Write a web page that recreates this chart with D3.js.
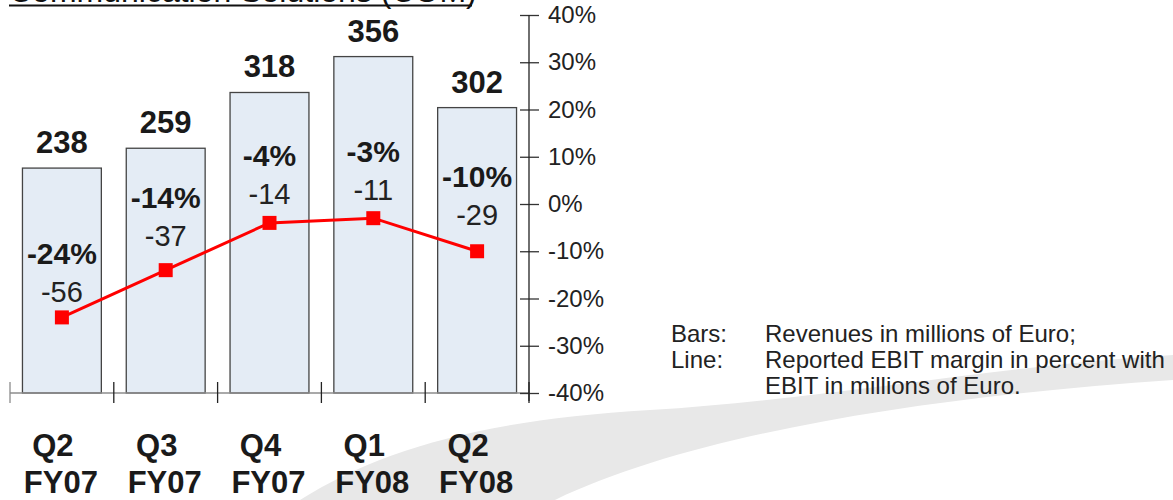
<!DOCTYPE html>
<html>
<head>
    <meta charset="utf-8">
    <script src="https://d3js.org/d3.v7.min.js"></script>
    <style>
      body { margin: 0; background: #fff; }
    </style>
</head>

<body>

    <div id="graph"></div>

<script>

// chart values
const quarters = ["Q2", "Q3", "Q4", "Q1", "Q2"];
const fiscalYears = ["FY07", "FY07", "FY07", "FY08", "FY08"];
const revenues = [238, 259, 318, 356, 302];      // bars, millions of Euro
const ebitMargin = [-24, -14, -4, -3, -10];      // line, percent
const ebit = [-56, -37, -14, -11, -29];          // millions of Euro
const marginTicks = [40, 30, 20, 10, 0, -10, -20, -30, -40];

// how far the margin / EBIT labels sit above each marker (px)
const labelLift = [15, 24, 19, 18, 26];

const width = 1173, height = 500;
const font = "Arial, 'Liberation Sans', sans-serif";

const svg = d3.select("#graph")
  .append("svg")
    .attr("width", width)
    .attr("height", height);

// grey swoosh in the background
svg.append("path")
    .attr("d", "M300,500 C380,450 480,420 650,410 S1000,365 1173,355 L1173,380 C950,395 700,430 555,500 Z")
    .attr("fill", "#e8e8e8");

// title, mostly cut off at the top
svg.append("text")
    .attr("x", 9)
    .attr("y", 2)
    .attr("font-family", font)
    .attr("font-size", 32)
    .attr("fill", "#111")
    .text("Communication Solutions (COM)");
svg.append("line")
    .attr("x1", 9).attr("x2", 472)
    .attr("y1", 5.5).attr("y2", 5.5)
    .style("stroke", "#111")
    .style("stroke-width", 2);

// scales
const x = d3.scaleBand()
    .domain(d3.range(revenues.length))
    .range([10, 529])
    .paddingInner(0.24)
    .paddingOuter(0.12);
const bw = x.bandwidth();
const cx = i => x(i) + bw / 2;

const yRev = d3.scaleLinear().domain([0, 400]).range([393, 15]);
const yPct = d3.scaleLinear().domain([-40, 40]).range([393, 15]);

// bars
svg.selectAll(".bar")
  .data(revenues)
  .join("rect")
    .attr("class", "bar")
    .attr("x", (d, i) => x(i))
    .attr("y", d => yRev(d))
    .attr("width", bw)
    .attr("height", d => yRev(0) - yRev(d))
    .attr("fill", "#e4ecf5")
    .attr("stroke", "#444")
    .attr("stroke-width", 1.3);

// bottom axis with ticks between the bars
svg.append("line")
    .attr("x1", 10).attr("x2", 529)
    .attr("y1", yRev(0)).attr("y2", yRev(0))
    .style("stroke", "#8c8c8c")
    .style("stroke-width", 1.5);
const gap = x.step() * x.paddingInner() / 2;
const bounds = revenues.map((d, i) => x(i) - gap);
bounds.push(x(revenues.length - 1) + bw + gap);
svg.selectAll(".xtick")
  .data(bounds)
  .join("line")
    .attr("class", "xtick")
    .attr("x1", d => d).attr("x2", d => d)
    .attr("y1", yRev(0) - 11).attr("y2", yRev(0) + 10)
    .style("stroke", (d, i) => i == 0 ? "#8c8c8c" : "#222")
    .style("stroke-width", 1.3);

// right axis for the margin
const yAxis = svg.append("g")
    .attr("transform", "translate(529,0)")
    .call(d3.axisRight(yPct)
      .tickValues(marginTicks)
      .tickSize(10)
      .tickPadding(9)
      .tickFormat(d => d + "%"));
yAxis.select(".domain").remove();
yAxis.selectAll(".tick line")
    .attr("x1", -9)
    .attr("stroke", "#333")
    .attr("stroke-width", 1.3);
yAxis.selectAll(".tick text")
    .attr("font-family", font)
    .attr("font-size", 24)
    .attr("fill", "#222");
yAxis.append("line")
    .attr("y1", yPct(40)).attr("y2", yPct(-40) + 8)
    .style("stroke", "#222")
    .style("stroke-width", 1.3);

// margin line
svg.append("path")
  .datum(ebitMargin)
    .attr("fill", "none")
    .attr("stroke", "#ff0000")
    .attr("stroke-width", 3)
    .attr("d", d3.line()
      .x((d, i) => cx(i))
      .y(d => yPct(d)));

svg.selectAll(".marker")
  .data(ebitMargin)
  .join("rect")
    .attr("class", "marker")
    .attr("x", (d, i) => cx(i) - 7)
    .attr("y", d => yPct(d) - 7)
    .attr("width", 14)
    .attr("height", 14)
    .attr("fill", "#ff0000");

// revenue labels above the bars
svg.selectAll(".rev")
  .data(revenues)
  .join("text")
    .attr("class", "rev")
    .attr("x", (d, i) => cx(i))
    .attr("y", d => yRev(d) - 15)
    .attr("text-anchor", "middle")
    .attr("font-family", font)
    .attr("font-size", 31)
    .attr("font-weight", "bold")
    .attr("fill", "#1a1a1a")
    .text(d => d);

// margin and EBIT labels above the markers
svg.selectAll(".pct")
  .data(ebitMargin)
  .join("text")
    .attr("class", "pct")
    .attr("x", (d, i) => cx(i))
    .attr("y", (d, i) => yPct(d) - labelLift[i] - 38)
    .attr("text-anchor", "middle")
    .attr("font-family", font)
    .attr("font-size", 30)
    .attr("font-weight", "bold")
    .attr("fill", "#1a1a1a")
    .text(d => d + "%");

svg.selectAll(".ebit")
  .data(ebit)
  .join("text")
    .attr("class", "ebit")
    .attr("x", (d, i) => cx(i))
    .attr("y", (d, i) => yPct(ebitMargin[i]) - labelLift[i])
    .attr("text-anchor", "middle")
    .attr("font-family", font)
    .attr("font-size", 29)
    .attr("fill", "#222")
    .text(d => d);

// category labels
svg.selectAll(".quarter")
  .data(quarters)
  .join("text")
    .attr("class", "quarter")
    .attr("x", (d, i) => cx(i) - 9)
    .attr("y", 456)
    .attr("text-anchor", "middle")
    .attr("font-family", font)
    .attr("font-size", 31)
    .attr("font-weight", "bold")
    .attr("fill", "#1a1a1a")
    .text(d => d);

svg.selectAll(".fy")
  .data(fiscalYears)
  .join("text")
    .attr("class", "fy")
    .attr("x", (d, i) => cx(i) - 1)
    .attr("y", 493)
    .attr("text-anchor", "middle")
    .attr("font-family", font)
    .attr("font-size", 31)
    .attr("font-weight", "bold")
    .attr("fill", "#1a1a1a")
    .text(d => d);

// legend text
const legendRows = [
    ["Bars:", "Revenues in millions of Euro;"],
    ["Line:", "Reported EBIT margin in percent with"],
    ["", "EBIT in millions of Euro."]
];
legendRows.forEach((row, i) => {
    svg.append("text")
        .attr("x", 671)
        .attr("y", 342 + i * 26)
        .attr("font-family", font)
        .attr("font-size", 24)
        .attr("fill", "#222")
        .text(row[0]);
    svg.append("text")
        .attr("x", 765)
        .attr("y", 342 + i * 26)
        .attr("font-family", font)
        .attr("font-size", 24)
        .attr("fill", "#222")
        .text(row[1]);
});

</script>

</body>
</html>
